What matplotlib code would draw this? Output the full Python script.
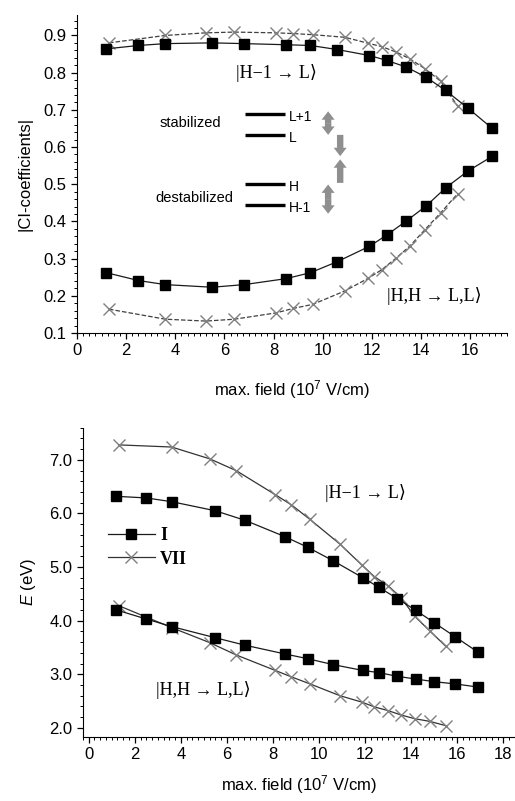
import matplotlib
matplotlib.use("Agg")
import matplotlib.pyplot as plt
from matplotlib.ticker import MultipleLocator, FormatStrFormatter
from matplotlib.patches import FancyArrowPatch
from matplotlib.lines import Line2D

plt.rcParams['font.family'] = ['Liberation Sans', 'DejaVu Sans']
plt.rcParams['mathtext.fontset'] = 'custom'
plt.rcParams['mathtext.rm'] = 'Liberation Sans'
plt.rcParams['mathtext.it'] = 'Liberation Sans:italic'

# field values (10^7 V/cm)
sq_x = [1.2, 2.5, 3.6, 5.5, 6.8, 8.5, 9.5, 10.6, 11.9, 12.6, 13.4, 14.2, 15.0, 15.9, 16.9]
cr_x = [1.3, 3.6, 5.25, 6.4, 8.1, 8.8, 9.6, 10.9, 11.85, 12.4, 13.0, 13.55, 14.15, 14.8, 15.5]

# |CI coefficients|
ci_I_hl = [0.864, 0.873, 0.878, 0.880, 0.878, 0.875, 0.873, 0.862, 0.846, 0.833, 0.815, 0.788, 0.752, 0.705, 0.650]
ci_I_dd = [0.262, 0.241, 0.230, 0.223, 0.230, 0.246, 0.262, 0.292, 0.333, 0.363, 0.401, 0.441, 0.490, 0.535, 0.575]
ci_VII_hl = [0.880, 0.900, 0.907, 0.909, 0.907, 0.905, 0.902, 0.895, 0.879, 0.870, 0.855, 0.837, 0.811, 0.777, 0.709]
ci_VII_dd = [0.164, 0.137, 0.132, 0.137, 0.154, 0.166, 0.177, 0.213, 0.247, 0.270, 0.302, 0.334, 0.377, 0.423, 0.475]

# excitation energies (eV)
E_I_hl = [6.32, 6.29, 6.22, 6.05, 5.87, 5.57, 5.37, 5.12, 4.80, 4.62, 4.41, 4.19, 3.96, 3.70, 3.41]
E_I_dd = [4.20, 4.03, 3.89, 3.68, 3.54, 3.38, 3.29, 3.18, 3.07, 3.03, 2.96, 2.91, 2.86, 2.82, 2.76]
E_VII_hl = [7.28, 7.24, 7.02, 6.80, 6.35, 6.16, 5.89, 5.43, 5.04, 4.82, 4.65, 4.43, 4.08, 3.81, 3.52]
E_VII_dd = [4.28, 3.87, 3.59, 3.36, 3.07, 2.95, 2.82, 2.60, 2.48, 2.39, 2.32, 2.24, 2.17, 2.12, 2.04]

ket_hl = '|H\u22121 \u2192 L\u27e9'
ket_dd = '|H,H \u2192 L,L\u27e9'
serif = ['Liberation Serif', 'DejaVu Sans']
xlab = r'max. field (10$^7$ V/cm)'

sq_style = dict(color='#1a1a1a', lw=0.9, marker='s', ms=7, mfc='black', mec='black', zorder=3)
cr_color = '#808080'

fig = plt.figure(figsize=(5.15, 8.01), dpi=100)
ax1 = fig.add_axes([0.1495, 0.5843, 0.835, 0.397])
ax2 = fig.add_axes([0.161, 0.08, 0.839, 0.386])


def style_axis(ax):
    ax.spines['top'].set_visible(False)
    ax.spines['right'].set_visible(False)
    ax.tick_params(which='both', direction='out', labelsize=12)
    ax.tick_params(which='major', length=4, width=0.9)
    ax.tick_params(which='minor', length=2.2, width=0.7)
    ax.xaxis.set_major_locator(MultipleLocator(2))
    ax.xaxis.set_minor_locator(MultipleLocator(0.25))


def gray_arrow(ax, x, y0, y1):
    ax.add_patch(FancyArrowPatch((x, y0), (x, y1), transform=ax.transAxes,
                                 arrowstyle='simple,head_length=0.55,head_width=0.85,tail_width=0.42',
                                 mutation_scale=11, lw=0, color='#8f8f8f', shrinkA=0, shrinkB=0))


# ---- top panel: CI coefficients
ax1.plot(cr_x, ci_VII_hl, ls='--', color='#404040', lw=0.9, marker='x', ms=8, mec=cr_color, mew=1.0, zorder=2)
ax1.plot(cr_x, ci_VII_dd, ls='--', color='#404040', lw=0.9, marker='x', ms=8, mec=cr_color, mew=1.0, zorder=2)
ax1.plot(sq_x, ci_I_hl, **sq_style)
ax1.plot(sq_x, ci_I_dd, **sq_style)
ax1.set_xlim(0, 17.5)
ax1.set_ylim(0.1, 0.955)
style_axis(ax1)
ax1.yaxis.set_major_locator(MultipleLocator(0.1))
ax1.yaxis.set_minor_locator(MultipleLocator(0.02))
ax1.yaxis.set_major_formatter(FormatStrFormatter('%.1f'))
ax1.set_xlabel(xlab, fontsize=12, labelpad=14)
ax1.set_ylabel('|CI-coefficients|', fontsize=12, labelpad=8)
ax1.text(8.1, 0.80, ket_hl, family=serif, fontsize=13, ha='center', va='center')
ax1.text(14.55, 0.20, ket_dd, family=serif, fontsize=13, ha='center', va='center')

# orbital level scheme
for fy, lab in [(0.688, 'L+1'), (0.623, 'L'), (0.468, 'H'), (0.403, 'H-1')]:
    ax1.plot([0.391, 0.484], [fy, fy], transform=ax1.transAxes, color='black', lw=2.4, solid_capstyle='butt')
    ax1.text(0.492, fy - 0.01, lab, transform=ax1.transAxes, fontsize=10, va='center', ha='left')
ax1.text(0.263, 0.660, 'stabilized', transform=ax1.transAxes, fontsize=10.5, ha='center', va='center')
ax1.text(0.274, 0.425, 'destabilized', transform=ax1.transAxes, fontsize=10.5, ha='center', va='center')
# double arrows (L+1 and H-1 region), single arrows (L down, H up)
gray_arrow(ax1, 0.584, 0.660, 0.697)
gray_arrow(ax1, 0.584, 0.660, 0.623)
gray_arrow(ax1, 0.612, 0.623, 0.556)
gray_arrow(ax1, 0.612, 0.472, 0.546)
gray_arrow(ax1, 0.584, 0.421, 0.467)
gray_arrow(ax1, 0.584, 0.421, 0.375)

# ---- bottom panel: energies
ax2.plot(cr_x, E_VII_hl, color='#333333', lw=0.9, marker='x', ms=8, mec=cr_color, mew=1.0, zorder=2)
ax2.plot(cr_x, E_VII_dd, color='#333333', lw=0.9, marker='x', ms=8, mec=cr_color, mew=1.0, zorder=2)
ax2.plot(sq_x, E_I_hl, **sq_style)
ax2.plot(sq_x, E_I_dd, **sq_style)
ax2.set_xlim(-0.25, 18.5)
ax2.set_ylim(1.83, 7.6)
style_axis(ax2)
ax2.yaxis.set_major_locator(MultipleLocator(1.0))
ax2.yaxis.set_minor_locator(MultipleLocator(0.2))
ax2.yaxis.set_major_formatter(FormatStrFormatter('%.1f'))
ax2.set_xlabel(xlab, fontsize=12, labelpad=8)
ax2.set_ylabel(r'$E$ (eV)', fontsize=12, labelpad=8)
ax2.text(12.0, 6.38, ket_hl, family=serif, fontsize=13, ha='center', va='center')
ax2.text(4.97, 2.71, ket_dd, family=serif, fontsize=13, ha='center', va='center')

handles = [Line2D([], [], color='#1a1a1a', lw=0.9, marker='s', ms=7, mfc='black', mec='black'),
           Line2D([], [], color='#333333', lw=0.9, marker='x', ms=8, mec=cr_color, mew=1.0)]
ax2.legend(handles, ['I', 'VII'], loc='center left', bbox_to_anchor=(0.02, 0.613), frameon=False,
           handlelength=2.6, handletextpad=0.3, labelspacing=0.35,
           prop=dict(family='Liberation Serif', weight='bold', size=13))

fig.savefig('out.png', dpi=100)
